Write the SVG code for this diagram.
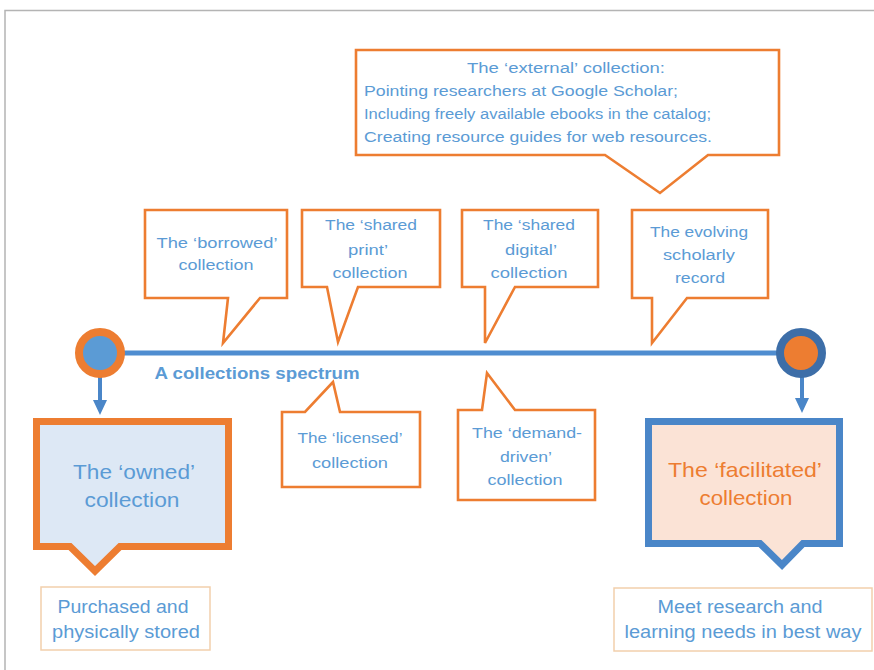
<svg xmlns="http://www.w3.org/2000/svg" width="874" height="670" viewBox="0 0 874 670">
<style>
.co{fill:#fff;stroke:#ed7d31;stroke-width:2.6;stroke-linejoin:miter}
.t{font-family:"Liberation Sans",Arial,sans-serif;font-size:15.5px;fill:#5b9bd5;text-anchor:middle}
.tl{text-anchor:start}
.big{font-size:21px}
.mid{font-size:17.5px}
</style>
<defs>
<marker id="ah" viewBox="0 0 10 10" refX="0" refY="5" markerUnits="userSpaceOnUse" markerWidth="15" markerHeight="14" orient="auto" preserveAspectRatio="none">
<path d="M0,0 L10,5 L0,10 Z" fill="#4a86c8"/>
</marker>
</defs>
<rect x="0" y="0" width="874" height="670" fill="#fff"/>
<path d="M5,670 V10.5 H874" fill="none" stroke="#b4b4b4" stroke-width="1.5"/>

<g id="connectors">
<line x1="120" y1="353" x2="782" y2="353" stroke="#4f8dd0" stroke-width="5"/>
<line x1="100" y1="376" x2="100" y2="400" stroke="#4a86c8" stroke-width="4" marker-end="url(#ah)"/>
<line x1="802" y1="377" x2="802" y2="398" stroke="#4a86c8" stroke-width="4" marker-end="url(#ah)"/>
</g>

<g id="start">
<circle cx="100" cy="353" r="21" fill="#5b9bd5" stroke="#ed7d31" stroke-width="8"/>
</g>
<g id="end">
<circle cx="801" cy="353" r="21" fill="#ed7d31" stroke="#3d6ea8" stroke-width="8"/>
</g>
<g id="spectrum-label">
<text x="257" y="379" class="t" style="font-weight:bold;font-size:16px" textLength="205" lengthAdjust="spacingAndGlyphs">A collections spectrum</text>
</g>

<g id="external">
<path class="co" d="M356,50 H779 V155 H708 L660,193 L605,155 H356 Z"/>
<text x="566" y="73" class="t" textLength="198" lengthAdjust="spacingAndGlyphs">The ‘external’ collection:</text>
<text x="364" y="96" class="t tl" textLength="314" lengthAdjust="spacingAndGlyphs">Pointing researchers at Google Scholar;</text>
<text x="364" y="119" class="t tl" textLength="347" lengthAdjust="spacingAndGlyphs">Including freely available ebooks in the catalog;</text>
<text x="364" y="142" class="t tl" textLength="348" lengthAdjust="spacingAndGlyphs">Creating resource guides for web resources.</text>
</g>

<g id="borrowed">
<path class="co" d="M145,210 H287 V298 H260 L223,343 L228,298 H145 Z"/>
<text x="217" y="248" class="t" textLength="121" lengthAdjust="spacingAndGlyphs">The ‘borrowed’</text>
<text x="216" y="270" class="t" textLength="75" lengthAdjust="spacingAndGlyphs">collection</text>
</g>

<g id="shared-print">
<path class="co" d="M302,210 H440 V287 H358 L338,342 L327,287 H302 Z"/>
<text x="371" y="230" class="t" textLength="92" lengthAdjust="spacingAndGlyphs">The ‘shared</text>
<text x="368" y="255" class="t" textLength="40" lengthAdjust="spacingAndGlyphs">print’</text>
<text x="370" y="278" class="t" textLength="75" lengthAdjust="spacingAndGlyphs">collection</text>
</g>

<g id="shared-digital">
<path class="co" d="M462,210 H598 V287 H515 L485,343 L485,287 H462 Z"/>
<text x="529" y="230" class="t" textLength="92" lengthAdjust="spacingAndGlyphs">The ‘shared</text>
<text x="531" y="255" class="t" textLength="52" lengthAdjust="spacingAndGlyphs">digital’</text>
<text x="529" y="278" class="t" textLength="77" lengthAdjust="spacingAndGlyphs">collection</text>
</g>

<g id="evolving">
<path class="co" d="M632,210 H768 V298 H687 L652,343 L652,298 H632 Z"/>
<text x="699" y="237" class="t" textLength="98" lengthAdjust="spacingAndGlyphs">The evolving</text>
<text x="699" y="260" class="t" textLength="72" lengthAdjust="spacingAndGlyphs">scholarly</text>
<text x="700" y="283" class="t" textLength="50" lengthAdjust="spacingAndGlyphs">record</text>
</g>

<g id="licensed">
<path class="co" d="M282,412 H305 L333,382 L340,412 H420 V487 H282 Z"/>
<text x="350" y="443" class="t" textLength="105" lengthAdjust="spacingAndGlyphs">The ‘licensed’</text>
<text x="350" y="468" class="t" textLength="76" lengthAdjust="spacingAndGlyphs">collection</text>
</g>

<g id="demand-driven">
<path class="co" d="M458,410 H482 L487,373 L515,410 H595 V500 H458 Z"/>
<text x="527" y="438" class="t" textLength="110" lengthAdjust="spacingAndGlyphs">The ‘demand-</text>
<text x="526" y="462" class="t" textLength="52" lengthAdjust="spacingAndGlyphs">driven’</text>
<text x="525" y="485" class="t" textLength="75" lengthAdjust="spacingAndGlyphs">collection</text>
</g>

<g id="owned">
<path d="M36.5,421.5 H228.5 V546.5 H120 L95,571 L70,546.5 H36.5 Z" fill="#dde8f5" stroke="#ed7d31" stroke-width="7"/>
<text x="134" y="479" class="t big" textLength="122" lengthAdjust="spacingAndGlyphs">The ‘owned’</text>
<text x="132" y="507" class="t big" textLength="95" lengthAdjust="spacingAndGlyphs">collection</text>
</g>

<g id="purchased">
<rect x="41" y="587" width="169" height="63" fill="#fff" stroke="#f2cfac" stroke-width="1.5"/>
<text x="123" y="613" class="t mid" textLength="131" lengthAdjust="spacingAndGlyphs">Purchased and</text>
<text x="126" y="638" class="t mid" textLength="148" lengthAdjust="spacingAndGlyphs">physically stored</text>
</g>

<g id="facilitated">
<path d="M648.5,421.5 H839.5 V543.5 H803 L782,565 L760,543.5 H648.5 Z" fill="#fbe3d6" stroke="#4a86c8" stroke-width="7"/>
<text x="745" y="477" class="t big" style="fill:#ed7d31" textLength="154" lengthAdjust="spacingAndGlyphs">The ‘facilitated’</text>
<text x="746" y="505" class="t big" style="fill:#ed7d31" textLength="93" lengthAdjust="spacingAndGlyphs">collection</text>
</g>

<g id="meet">
<rect x="614" y="588" width="258" height="63" fill="#fff" stroke="#f2cfac" stroke-width="1.5"/>
<text x="740" y="613" class="t mid" textLength="165" lengthAdjust="spacingAndGlyphs">Meet research and</text>
<text x="743" y="638" class="t mid" textLength="237" lengthAdjust="spacingAndGlyphs">learning needs in best way</text>
</g>
</svg>
